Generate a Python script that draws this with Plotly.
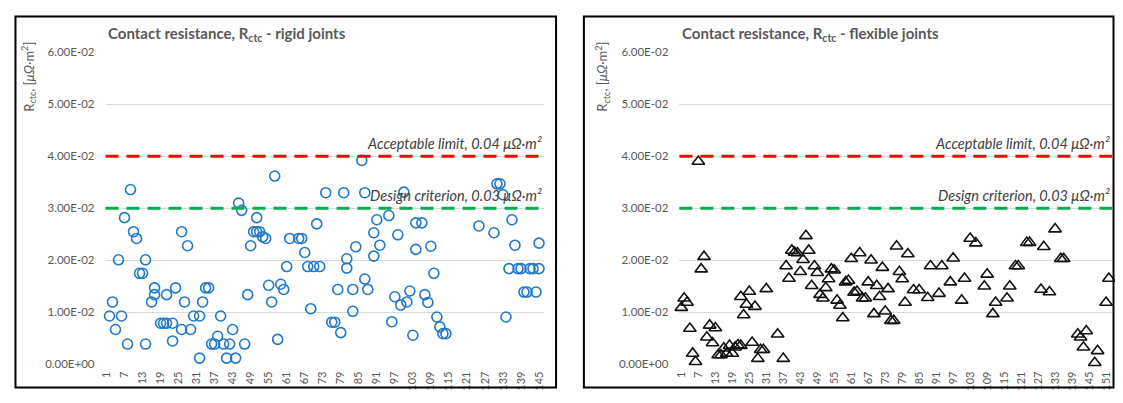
import plotly.graph_objects as go

# ---------------- data ----------------
rigid_sample = [2, 3, 4, 5, 6, 7, 8, 9, 10, 11, 12, 13, 14, 14, 16, 17, 17, 19, 20, 21, 21, 23, 23, 24,
                26, 26, 27, 28, 29, 30, 32, 32, 33, 34, 35, 36, 37, 38, 39, 40, 41, 42, 43, 44, 45, 46,
                47, 48, 49, 50, 51, 51, 52, 53, 54, 55, 56, 57, 58, 59, 60, 61, 62, 65, 66, 67, 68, 69,
                70, 71, 72, 74, 76, 77, 78, 79, 80, 81, 81, 83, 83, 84, 86, 87, 87, 88, 90, 90, 91, 92,
                95, 96, 97, 98, 99, 100, 101, 102, 103, 104, 104, 106, 107, 108, 109, 110, 111, 112,
                113, 114, 125, 130, 131, 132, 133, 134, 135, 136, 137, 138, 139, 140, 141, 142, 143,
                144, 145, 145]
rigid_rctc = [0.0093, 0.012, 0.0067, 0.0201, 0.0093, 0.0282, 0.0039, 0.0336, 0.0255, 0.0242, 0.0175,
              0.0175, 0.0039, 0.0201, 0.012, 0.0147, 0.0134, 0.0079, 0.0079, 0.0079, 0.0134, 0.0079,
              0.0045, 0.0147, 0.0067, 0.0255, 0.012, 0.0228, 0.0067, 0.0093, 0.0012, 0.0093, 0.012,
              0.0147, 0.0147, 0.0039, 0.0039, 0.0054, 0.0093, 0.0039, 0.0012, 0.0039, 0.0067, 0.0012,
              0.031, 0.0296, 0.0039, 0.0134, 0.0228, 0.0255, 0.0282, 0.0255, 0.0255, 0.0245, 0.0242,
              0.0152, 0.012, 0.0362, 0.0048, 0.0154, 0.0144, 0.0188, 0.0242, 0.0242, 0.0242, 0.0215,
              0.0188, 0.0107, 0.0188, 0.027, 0.0188, 0.033, 0.0081, 0.0081, 0.0144, 0.0061, 0.033,
              0.0185, 0.0203, 0.0144, 0.0102, 0.0226, 0.0392, 0.033, 0.0164, 0.0144, 0.0253, 0.0208,
              0.0278, 0.0229, 0.0286, 0.0082, 0.013, 0.0249, 0.0114, 0.0331, 0.012, 0.0141, 0.0056,
              0.0221, 0.0272, 0.0272, 0.0134, 0.0119, 0.0227, 0.0175, 0.0091, 0.0072, 0.0059, 0.0059,
              0.0266, 0.0253, 0.0347, 0.0347, 0.0326, 0.0091, 0.0184, 0.0278, 0.0229, 0.0184, 0.0184,
              0.0139, 0.0139, 0.0184, 0.0184, 0.0139, 0.0184, 0.0233]

flex_sample = [1, 2, 3, 4, 5, 6, 7, 8, 9, 10, 11, 12, 13, 14, 15, 16, 17, 18, 19, 20, 21, 22, 22, 23, 24,
               25, 26, 27, 28, 29, 30, 31, 35, 37, 38, 39, 40, 41, 42, 43, 44, 45, 46, 47, 48, 49, 50,
               51, 52, 53, 54, 55, 56, 57, 58, 59, 60, 61, 62, 63, 64, 65, 66, 67, 68, 69, 70, 71, 72,
               73, 74, 75, 76, 77, 78, 79, 80, 81, 83, 85, 88, 89, 92, 93, 96, 97, 100, 101, 103, 105,
               108, 109, 111, 112, 116, 117, 119, 120, 123, 124, 128, 129, 131, 133, 135, 136, 141,
               142, 143, 144, 147, 148, 151, 152]
flex_rctc = [0.0109, 0.0127, 0.0119, 0.0069, 0.0021, 0.0005, 0.039, 0.0183, 0.0207, 0.0052, 0.0075,
             0.0041, 0.007, 0.0018, 0.0018, 0.0031, 0.0021, 0.0036, 0.0021, 0.0033, 0.0037, 0.0036,
             0.013, 0.0095, 0.0115, 0.014, 0.0042, 0.0111, 0.0011, 0.0028, 0.0028, 0.0145, 0.0058,
             0.0011, 0.0189, 0.0165, 0.0219, 0.0215, 0.0214, 0.0178, 0.0201, 0.0247, 0.0219, 0.0151,
             0.0189, 0.0176, 0.0134, 0.0127, 0.0147, 0.0164, 0.0183, 0.0181, 0.0123, 0.0113, 0.0089,
             0.0158, 0.0161, 0.0203, 0.0138, 0.014, 0.0214, 0.0127, 0.0127, 0.0158, 0.02, 0.0097,
             0.0151, 0.013, 0.0186, 0.0102, 0.0145, 0.0084, 0.0084, 0.0227, 0.0178, 0.0164, 0.0119,
             0.0212, 0.0143, 0.0143, 0.0128, 0.0189, 0.0136, 0.0189, 0.0158, 0.0204, 0.0123, 0.0165,
             0.0242, 0.0233, 0.015, 0.0173, 0.0097, 0.0119, 0.0127, 0.015, 0.0189, 0.0189, 0.0234,
             0.0234, 0.0144, 0.0226, 0.0139, 0.026, 0.0203, 0.0203, 0.0058, 0.0052, 0.0033, 0.0064,
             0.0003, 0.0026, 0.0119, 0.0165]

ACCEPTABLE_LIMIT = 0.04
DESIGN_CRITERION = 0.03

y_tickvals = [0.0, 0.01, 0.02, 0.03, 0.04, 0.05, 0.06]
y_ticktext = ["0.00E+00", "1.00E-02", "2.00E-02", "3.00E-02", "4.00E-02", "5.00E-02", "6.00E-02"]
rigid_xticks = list(range(1, 146, 6))
flex_xticks = list(range(1, 152, 6))

# ---------------- figure ----------------
# The page keeps the browser's default 8px body margin, so the figure is
# sized to fill the 1123x403 window exactly and page pixels are converted.
PAGE_W, PAGE_H, BODY_M = 1123, 403, 8
W, H = PAGE_W - 2 * BODY_M, PAGE_H - 2 * BODY_M


def px(xp):
    return (xp - BODY_M) / W


def py(yp):
    return 1 - (yp - BODY_M) / H


FONT = "Lato, 'Open Sans', sans-serif"
GREY = "#595959"

fig = go.Figure()

fig.add_trace(go.Scatter(
    x=rigid_sample, y=rigid_rctc, mode="markers", xaxis="x", yaxis="y",
    marker=dict(symbol="circle-open", size=10, color="#1F78C8", line=dict(width=1.6, color="#1F78C8")),
    cliponaxis=False, showlegend=False))

fig.add_trace(go.Scatter(
    x=flex_sample, y=flex_rctc, mode="markers", xaxis="x2", yaxis="y2",
    marker=dict(symbol="triangle-up-open", size=11, color="#111111", line=dict(width=1.6, color="#111111")),
    cliponaxis=False, showlegend=False))

ydom = [py(369.5), py(46.5)]
left_dom = [px(100), px(541)]
right_dom = [px(677), px(1112)]

yaxis_common = dict(
    range=[0, 0.06], tickvals=y_tickvals, ticktext=y_ticktext, showgrid=True,
    gridcolor="#D9D9D9", gridwidth=1, zeroline=False, showline=False, ticks="",
    tickfont=dict(family=FONT, size=11.5, color=GREY), domain=ydom, ticklabelstandoff=10,
)

xaxis_common = dict(
    showgrid=False, zeroline=False, showline=False, ticks="", tickangle=-90,
    tickfont=dict(family=FONT, size=11, color=GREY), ticklabelstandoff=4,
)

fig.update_layout(
    width=W, height=H, margin=dict(l=0, r=0, t=0, b=0),
    paper_bgcolor="white", plot_bgcolor="white",
    xaxis=dict(domain=left_dom, range=[0.67, 146.7], tickvals=rigid_xticks,
               ticktext=[str(v) for v in rigid_xticks], anchor="y", **xaxis_common),
    yaxis=dict(anchor="x", **yaxis_common),
    xaxis2=dict(domain=right_dom, range=[0.3, 153.1], tickvals=flex_xticks,
                ticktext=[str(v) for v in flex_xticks], anchor="y2", **xaxis_common),
    yaxis2=dict(anchor="x2", **yaxis_common),
)

shapes = []
for xr, yr in (("x", "y"), ("x2", "y2")):
    shapes.append(dict(type="line", xref=f"{xr} domain", yref=yr, x0=0, x1=1,
                       y0=ACCEPTABLE_LIMIT, y1=ACCEPTABLE_LIMIT,
                       line=dict(color="#FF0000", width=3, dash="13px,8px"), layer="above"))
    shapes.append(dict(type="line", xref=f"{xr} domain", yref=yr, x0=0, x1=1,
                       y0=DESIGN_CRITERION, y1=DESIGN_CRITERION,
                       line=dict(color="#00B050", width=3, dash="13px,8px"), layer="above"))

# panel frames
frame_top, frame_bot = py(9.5), py(393.5)
shapes.append(dict(type="rect", xref="paper", yref="paper", x0=px(9.5), x1=px(553),
                   y0=frame_bot, y1=frame_top, line=dict(color="black", width=2)))
shapes.append(dict(type="rect", xref="paper", yref="paper", x0=px(581), x1=px(1113.5),
                   y0=frame_bot, y1=frame_top, line=dict(color="black", width=2)))
fig.update_layout(shapes=shapes)

annotations = []
titles = ["Contact resistance, R<sub>ctc</sub> - rigid joints",
          "Contact resistance, R<sub>ctc</sub> - flexible joints"]
title_x = [px(101), px(678)]
ytitle_x = [px(23), px(600)]
for i, (xr, yr) in enumerate((("x", "y"), ("x2", "y2"))):
    annotations.append(dict(text=f"<b>{titles[i]}</b>", xref="paper", yref="paper",
                            x=title_x[i], y=py(28), xanchor="left", yanchor="middle",
                            showarrow=False, font=dict(family=FONT, size=15, color=GREY)))
    annotations.append(dict(text="R<sub>ctc</sub>, [<i>μΩ</i>·m<sup>2</sup>]", xref="paper", yref="paper",
                            x=ytitle_x[i], y=py(72), xanchor="center", yanchor="middle",
                            textangle=-90, showarrow=False,
                            font=dict(family=FONT, size=13, color=GREY)))
    annotations.append(dict(text="<i>Acceptable limit, 0.04 μΩ·m²</i>", xref=f"{xr} domain", yref=yr,
                            x=1, y=ACCEPTABLE_LIMIT, xanchor="right", yanchor="bottom", yshift=2,
                            showarrow=False, font=dict(family=FONT, size=14.5, color="#404040")))
    annotations.append(dict(text="<i>Design criterion, 0.03 μΩ·m²</i>", xref=f"{xr} domain", yref=yr,
                            x=1, y=DESIGN_CRITERION, xanchor="right", yanchor="bottom", yshift=2,
                            showarrow=False, font=dict(family=FONT, size=14.5, color="#404040")))
fig.update_layout(annotations=annotations)

fig.write_html("out.html", config={"displayModeBar": False})
